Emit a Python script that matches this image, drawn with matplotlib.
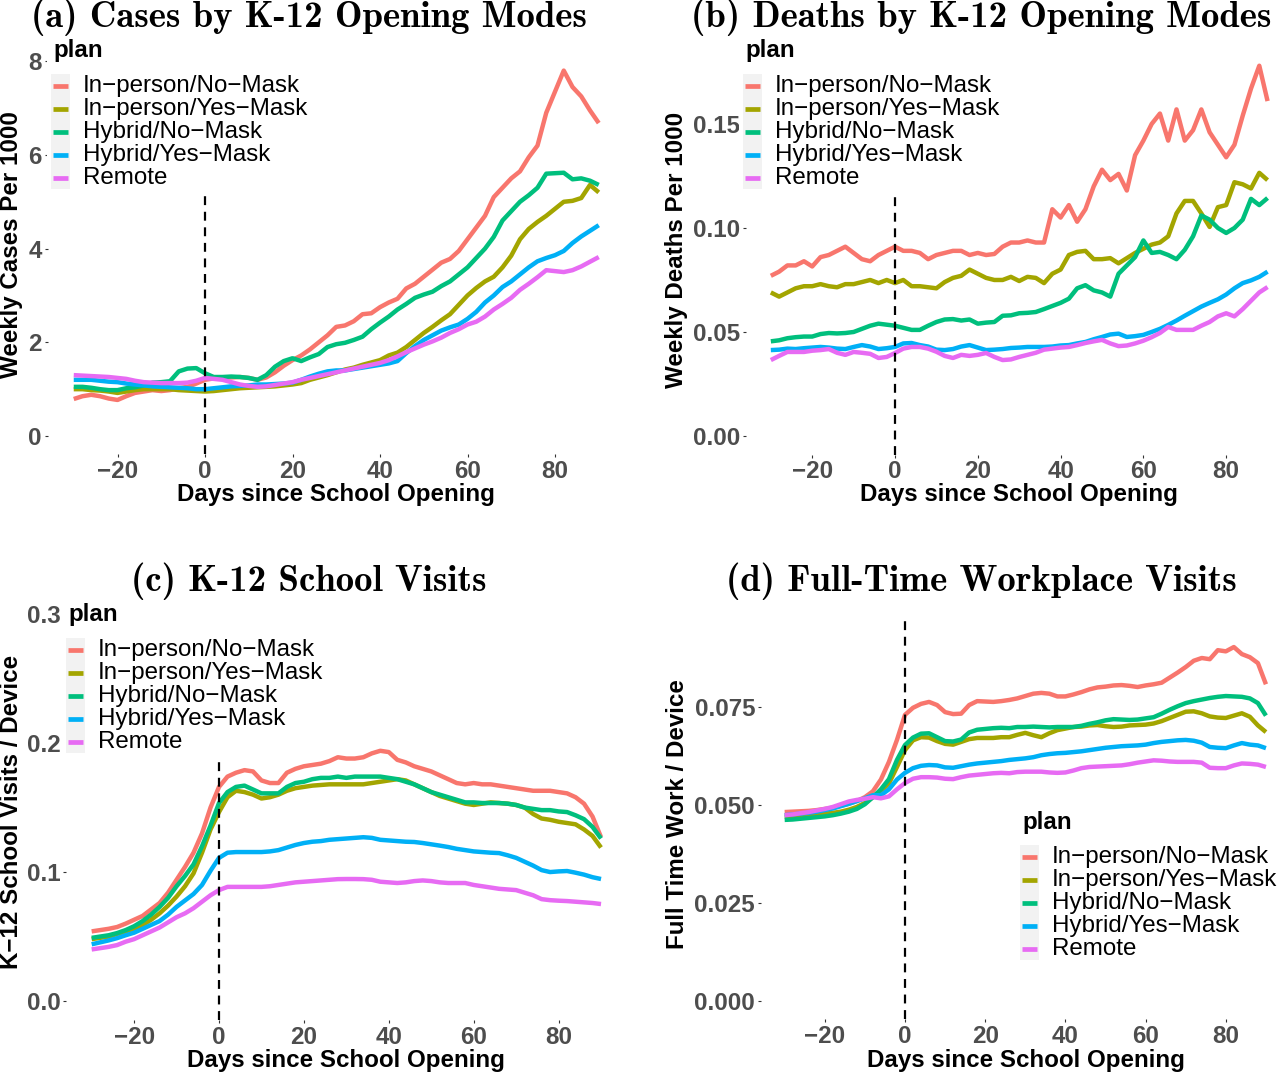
import matplotlib
matplotlib.use("Agg")
import matplotlib.pyplot as plt
from matplotlib.patches import Rectangle
from matplotlib.lines import Line2D

# ---------------- data ----------------
days = [-30, -28, -26, -24, -22, -20, -18, -16, -14, -12, -10, -8, -6, -4, -2,
        0, 2, 4, 6, 8, 10, 12, 14, 16, 18, 20, 22, 24, 26, 28, 30, 32, 34, 36,
        38, 40, 42, 44, 46, 48, 50, 52, 54, 56, 58, 60, 62, 64, 66, 68, 70, 72,
        74, 76, 78, 80, 82, 84, 86, 88, 90]

plans = ["In\u2212person/No\u2212Mask", "In\u2212person/Yes\u2212Mask",
         "Hybrid/No\u2212Mask", "Hybrid/Yes\u2212Mask", "Remote"]
colors = ["#F8766D", "#A3A500", "#00BF7D", "#00B0F6", "#E76BF3"]

# (a) weekly cases per 1000
cases_ip_nomask = [0.79, 0.85, 0.88, 0.85, 0.80, 0.77, 0.85, 0.92, 0.95, 0.98, 0.96, 0.98, 1.02, 1.05, 1.12,
                   1.20, 1.23, 1.24, 1.25, 1.26, 1.24, 1.20, 1.25, 1.36, 1.50, 1.62, 1.72, 1.85, 2.00, 2.15,
                   2.33, 2.36, 2.45, 2.60, 2.62, 2.75, 2.85, 2.93, 3.15, 3.25, 3.40, 3.55, 3.70, 3.78, 3.95,
                   4.20, 4.45, 4.70, 5.10, 5.30, 5.50, 5.65, 5.95, 6.20, 6.90, 7.35, 7.80, 7.45, 7.25, 6.95, 6.68]
cases_ip_yesmask = [1.00, 1.00, 0.98, 0.97, 0.95, 0.92, 0.95, 0.98, 1.00, 1.00, 1.00, 1.00, 0.98, 0.97, 0.96,
                    0.95, 0.96, 0.98, 1.00, 1.02, 1.03, 1.04, 1.05, 1.06, 1.08, 1.10, 1.13, 1.20, 1.25, 1.30,
                    1.36, 1.42, 1.46, 1.52, 1.57, 1.62, 1.72, 1.78, 1.90, 2.05, 2.20, 2.33, 2.47, 2.60, 2.80,
                    3.00, 3.16, 3.30, 3.40, 3.60, 3.85, 4.20, 4.42, 4.57, 4.70, 4.85, 5.00, 5.02, 5.08, 5.36, 5.20]
cases_hy_nomask = [1.05, 1.05, 1.03, 1.00, 0.98, 0.98, 1.02, 1.04, 1.08, 1.14, 1.15, 1.17, 1.38, 1.44, 1.45,
                   1.34, 1.26, 1.26, 1.27, 1.26, 1.24, 1.20, 1.30, 1.48, 1.60, 1.66, 1.60, 1.68, 1.75, 1.90,
                   1.96, 1.99, 2.05, 2.12, 2.28, 2.42, 2.55, 2.70, 2.82, 2.95, 3.02, 3.08, 3.20, 3.30, 3.45,
                   3.60, 3.80, 4.00, 4.25, 4.60, 4.80, 5.00, 5.14, 5.30, 5.60, 5.61, 5.62, 5.48, 5.50, 5.45, 5.36]
cases_hy_yesmask = [1.20, 1.20, 1.20, 1.18, 1.16, 1.15, 1.12, 1.10, 1.08, 1.06, 1.05, 1.04, 1.03, 1.02, 1.00,
                    1.00, 1.02, 1.04, 1.06, 1.07, 1.08, 1.10, 1.10, 1.11, 1.12, 1.14, 1.20, 1.27, 1.33, 1.38,
                    1.40, 1.40, 1.43, 1.46, 1.49, 1.52, 1.55, 1.60, 1.77, 1.92, 2.05, 2.15, 2.25, 2.32, 2.38,
                    2.50, 2.65, 2.85, 3.00, 3.18, 3.30, 3.45, 3.60, 3.73, 3.80, 3.86, 3.95, 4.12, 4.26, 4.38, 4.50]
cases_remote = [1.30, 1.29, 1.28, 1.27, 1.26, 1.24, 1.22, 1.18, 1.15, 1.14, 1.13, 1.13, 1.13, 1.14, 1.18,
                1.24, 1.22, 1.20, 1.15, 1.10, 1.07, 1.05, 1.06, 1.09, 1.12, 1.15, 1.20, 1.24, 1.28, 1.32,
                1.36, 1.40, 1.44, 1.48, 1.52, 1.56, 1.62, 1.70, 1.79, 1.87, 1.95, 2.02, 2.10, 2.20, 2.28,
                2.38, 2.44, 2.55, 2.70, 2.82, 2.95, 3.12, 3.25, 3.39, 3.54, 3.52, 3.50, 3.54, 3.62, 3.72, 3.82]

# (b) weekly deaths per 1000
deaths_ip_nomask = [0.077, 0.079, 0.082, 0.082, 0.084, 0.0815, 0.086, 0.087, 0.089, 0.091, 0.088, 0.085, 0.084, 0.087, 0.089,
                    0.091, 0.089, 0.089, 0.088, 0.085, 0.087, 0.088, 0.089, 0.089, 0.087, 0.088, 0.087, 0.0875, 0.091, 0.093,
                    0.093, 0.094, 0.093, 0.093, 0.109, 0.105, 0.111, 0.103, 0.109, 0.120, 0.128, 0.123, 0.126, 0.118, 0.135,
                    0.142, 0.150, 0.155, 0.142, 0.157, 0.142, 0.147, 0.157, 0.146, 0.140, 0.134, 0.140, 0.154, 0.167, 0.178, 0.161]
deaths_ip_yesmask = [0.069, 0.067, 0.069, 0.071, 0.072, 0.072, 0.073, 0.072, 0.0715, 0.073, 0.073, 0.074, 0.075, 0.0735, 0.075,
                     0.0735, 0.075, 0.072, 0.072, 0.0715, 0.071, 0.074, 0.076, 0.077, 0.080, 0.078, 0.076, 0.075, 0.075, 0.0765,
                     0.0745, 0.0765, 0.076, 0.0735, 0.078, 0.080, 0.087, 0.0885, 0.089, 0.085, 0.085, 0.0855, 0.083, 0.0855, 0.088,
                     0.090, 0.092, 0.093, 0.096, 0.107, 0.113, 0.113, 0.107, 0.1005, 0.110, 0.111, 0.122, 0.121, 0.119, 0.1265, 0.123]
deaths_hy_nomask = [0.0455, 0.046, 0.047, 0.0475, 0.0478, 0.0478, 0.049, 0.0495, 0.0493, 0.0495, 0.050, 0.0515, 0.053, 0.054, 0.0535,
                    0.053, 0.052, 0.051, 0.051, 0.053, 0.0548, 0.056, 0.0562, 0.0555, 0.056, 0.054, 0.0545, 0.0548, 0.0578, 0.058,
                    0.059, 0.0592, 0.0596, 0.061, 0.0625, 0.064, 0.066, 0.071, 0.0725, 0.070, 0.069, 0.067, 0.078, 0.082, 0.086,
                    0.094, 0.088, 0.0885, 0.087, 0.085, 0.0895, 0.096, 0.106, 0.104, 0.100, 0.0976, 0.100, 0.104, 0.114, 0.111, 0.1144]
deaths_hy_yesmask = [0.0413, 0.0415, 0.042, 0.0418, 0.0422, 0.0425, 0.0428, 0.0425, 0.042, 0.0418, 0.0428, 0.0437, 0.043, 0.0418, 0.0422,
                     0.0428, 0.0445, 0.0447, 0.0437, 0.043, 0.0415, 0.0413, 0.0418, 0.043, 0.0437, 0.0425, 0.0413, 0.0415, 0.0418, 0.0423,
                     0.0425, 0.0428, 0.0428, 0.0428, 0.043, 0.0435, 0.0437, 0.0445, 0.0452, 0.0465, 0.0476, 0.0488, 0.0492, 0.0476, 0.048,
                     0.0486, 0.050, 0.0515, 0.0534, 0.0555, 0.0578, 0.060, 0.0622, 0.064, 0.0657, 0.068, 0.071, 0.0735, 0.0748, 0.0765, 0.079]
deaths_remote = [0.0365, 0.0385, 0.0404, 0.0404, 0.0404, 0.041, 0.0413, 0.0418, 0.040, 0.039, 0.0404, 0.040, 0.0395, 0.0375, 0.038,
                 0.0399, 0.042, 0.0428, 0.0428, 0.042, 0.0405, 0.0385, 0.0375, 0.039, 0.0385, 0.039, 0.0399, 0.038, 0.0365, 0.0368,
                 0.038, 0.039, 0.040, 0.0415, 0.042, 0.0425, 0.0428, 0.0437, 0.0447, 0.0455, 0.0462, 0.0445, 0.0432, 0.0435, 0.0445,
                 0.0458, 0.0475, 0.0495, 0.0524, 0.051, 0.051, 0.051, 0.053, 0.0548, 0.0575, 0.059, 0.0575, 0.061, 0.065, 0.069, 0.0716]

# (c) K-12 school visits per device
school_ip_nomask = [0.054, 0.055, 0.056, 0.0574, 0.060, 0.063, 0.066, 0.071, 0.076, 0.084, 0.094, 0.104, 0.115, 0.130, 0.150,
                    0.166, 0.174, 0.177, 0.179, 0.178, 0.171, 0.169, 0.169, 0.177, 0.180, 0.182, 0.183, 0.184, 0.186, 0.189,
                    0.188, 0.188, 0.189, 0.192, 0.194, 0.193, 0.187, 0.185, 0.182, 0.180, 0.178, 0.175, 0.172, 0.169, 0.168,
                    0.169, 0.168, 0.168, 0.167, 0.166, 0.165, 0.164, 0.163, 0.163, 0.163, 0.162, 0.161, 0.158, 0.153, 0.143, 0.127]
school_ip_yesmask = [0.048, 0.049, 0.050, 0.052, 0.054, 0.056, 0.059, 0.063, 0.068, 0.074, 0.081, 0.089, 0.099, 0.115, 0.133,
                     0.1465, 0.158, 0.163, 0.162, 0.160, 0.157, 0.158, 0.160, 0.163, 0.165, 0.166, 0.167, 0.1675, 0.168, 0.168,
                     0.168, 0.168, 0.168, 0.169, 0.170, 0.171, 0.172, 0.171, 0.168, 0.165, 0.162, 0.159, 0.157, 0.155, 0.153,
                     0.152, 0.153, 0.154, 0.1535, 0.153, 0.152, 0.150, 0.145, 0.1415, 0.1405, 0.139, 0.138, 0.137, 0.133, 0.128, 0.119]
school_hy_nomask = [0.049, 0.050, 0.051, 0.0527, 0.055, 0.058, 0.062, 0.067, 0.073, 0.080, 0.089, 0.097, 0.106, 0.120, 0.136,
                    0.1535, 0.162, 0.166, 0.167, 0.164, 0.161, 0.161, 0.161, 0.166, 0.169, 0.170, 0.172, 0.173, 0.173, 0.174,
                    0.173, 0.174, 0.174, 0.174, 0.174, 0.173, 0.172, 0.170, 0.168, 0.165, 0.162, 0.160, 0.158, 0.156, 0.154,
                    0.154, 0.1535, 0.1535, 0.1535, 0.153, 0.152, 0.150, 0.149, 0.148, 0.148, 0.147, 0.1465, 0.144, 0.141, 0.135, 0.126]
school_hy_yesmask = [0.044, 0.0455, 0.047, 0.0488, 0.051, 0.053, 0.056, 0.059, 0.062, 0.067, 0.073, 0.078, 0.083, 0.090, 0.101,
                     0.111, 0.115, 0.1155, 0.1155, 0.1155, 0.1155, 0.116, 0.117, 0.119, 0.121, 0.1225, 0.1235, 0.124, 0.125, 0.1255,
                     0.126, 0.1265, 0.127, 0.1265, 0.125, 0.1245, 0.124, 0.1235, 0.1233, 0.1225, 0.1215, 0.1205, 0.1194, 0.118, 0.117,
                     0.116, 0.1155, 0.115, 0.1147, 0.113, 0.111, 0.108, 0.105, 0.1015, 0.100, 0.1005, 0.1008, 0.0995, 0.098, 0.096, 0.0946]
school_remote = [0.040, 0.041, 0.042, 0.0434, 0.046, 0.048, 0.051, 0.054, 0.057, 0.061, 0.065, 0.068, 0.072, 0.077, 0.082,
                 0.086, 0.0885, 0.0885, 0.0885, 0.0885, 0.0885, 0.089, 0.090, 0.091, 0.092, 0.0925, 0.093, 0.0935, 0.094, 0.0945,
                 0.0946, 0.0946, 0.0945, 0.094, 0.0925, 0.092, 0.0915, 0.092, 0.093, 0.0935, 0.093, 0.092, 0.0915, 0.0915, 0.0915,
                 0.090, 0.089, 0.088, 0.087, 0.0865, 0.086, 0.084, 0.082, 0.079, 0.0782, 0.0778, 0.0775, 0.077, 0.0765, 0.076, 0.0752]

# (d) full-time workplace visits per device
work_ip_nomask = [0.0482, 0.0483, 0.0484, 0.0485, 0.0487, 0.049, 0.0493, 0.0498, 0.0503, 0.051, 0.052, 0.0535, 0.0565, 0.061, 0.0666,
                  0.073, 0.0748, 0.0758, 0.0763, 0.0755, 0.0737, 0.0732, 0.0733, 0.0755, 0.0765, 0.0764, 0.0763, 0.0765, 0.0768, 0.0772,
                  0.0778, 0.0784, 0.0786, 0.0784, 0.0777, 0.0777, 0.0782, 0.0788, 0.0795, 0.080, 0.0802, 0.0805, 0.0806, 0.0804, 0.0801,
                  0.0805, 0.0808, 0.0812, 0.0825, 0.0838, 0.0852, 0.0868, 0.0875, 0.0872, 0.0895, 0.0892, 0.0903, 0.0885, 0.0877, 0.0862, 0.0808]
work_ip_yesmask = [0.047, 0.0471, 0.0472, 0.0474, 0.0476, 0.0478, 0.048, 0.0483, 0.0488, 0.0495, 0.0505, 0.052, 0.0535, 0.0555, 0.0597,
                   0.064, 0.0665, 0.0673, 0.0672, 0.0663, 0.0656, 0.0654, 0.0661, 0.0668, 0.0671, 0.0671, 0.0671, 0.0673, 0.0673, 0.0679,
                   0.0684, 0.0678, 0.0673, 0.0683, 0.0691, 0.0695, 0.0699, 0.070, 0.0703, 0.0704, 0.0701, 0.0699, 0.070, 0.0703, 0.0704,
                   0.0705, 0.0708, 0.0714, 0.0722, 0.073, 0.0738, 0.0739, 0.0734, 0.0726, 0.0723, 0.0722, 0.0728, 0.0734, 0.0725, 0.0703, 0.0686]
work_hy_nomask = [0.0462, 0.0463, 0.0465, 0.0467, 0.0469, 0.0471, 0.0474, 0.0478, 0.0483, 0.049, 0.0502, 0.052, 0.054, 0.0566, 0.0615,
                  0.0653, 0.0672, 0.0682, 0.0683, 0.0673, 0.0663, 0.0662, 0.0667, 0.0685, 0.0692, 0.0694, 0.0696, 0.0697, 0.0696, 0.0699,
                  0.0699, 0.070, 0.0699, 0.0698, 0.0699, 0.0699, 0.0699, 0.0702, 0.0707, 0.0711, 0.0716, 0.0719, 0.0718, 0.0717, 0.0718,
                  0.0721, 0.0724, 0.0733, 0.0743, 0.0752, 0.076, 0.0765, 0.0769, 0.0773, 0.0776, 0.0778, 0.0777, 0.0776, 0.0772, 0.076, 0.0728]
work_hy_yesmask = [0.0474, 0.0476, 0.0478, 0.048, 0.0483, 0.0487, 0.0491, 0.0497, 0.0503, 0.051, 0.0517, 0.0525, 0.0525, 0.054, 0.0565,
                   0.0582, 0.0594, 0.060, 0.0602, 0.0601, 0.0596, 0.0595, 0.0599, 0.0603, 0.0606, 0.0608, 0.061, 0.0612, 0.0615, 0.0617,
                   0.0619, 0.0622, 0.0627, 0.063, 0.0632, 0.0633, 0.0635, 0.0637, 0.064, 0.0643, 0.0646, 0.0648, 0.065, 0.0651, 0.0652,
                   0.0654, 0.0658, 0.0661, 0.0663, 0.0665, 0.0666, 0.0664, 0.0659, 0.0648, 0.0646, 0.0645, 0.0652, 0.0658, 0.0654, 0.0652, 0.0645]
work_remote = [0.0474, 0.0476, 0.0479, 0.0482, 0.0486, 0.049, 0.0495, 0.0502, 0.0509, 0.0513, 0.0516, 0.052, 0.0517, 0.0522, 0.054,
               0.0556, 0.0567, 0.0571, 0.0571, 0.057, 0.0567, 0.0566, 0.0571, 0.0575, 0.0577, 0.0579, 0.0581, 0.0582, 0.0581, 0.0584,
               0.0585, 0.0585, 0.0585, 0.0583, 0.0582, 0.0583, 0.0588, 0.0594, 0.0597, 0.0598, 0.0599, 0.060, 0.0601, 0.0604, 0.0608,
               0.0611, 0.0614, 0.0613, 0.0611, 0.061, 0.061, 0.061, 0.0608, 0.0595, 0.0594, 0.0594, 0.0601, 0.0606, 0.0605, 0.0603, 0.0597]

x_ticks = [-20, 0, 20, 40, 60, 80]
a_yticks = [0, 2, 4, 6, 8]
a_yticklabels = ["0", "2", "4", "6", "8"]
b_yticks = [0.0, 0.05, 0.10, 0.15]
b_yticklabels = ["0.00", "0.05", "0.10", "0.15"]
c_yticks = [0.0, 0.1, 0.2, 0.3]
c_yticklabels = ["0.0", "0.1", "0.2", "0.3"]
d_yticks = [0.0, 0.025, 0.050, 0.075]
d_yticklabels = ["0.000", "0.025", "0.050", "0.075"]

titles = ["(a) Cases by K-12 Opening Modes", "(b) Deaths by K-12 Opening Modes",
          "(c) K-12 School Visits", "(d) Full-Time Workplace Visits"]
ylabels = ["Weekly Cases Per 1000", "Weekly Deaths Per 1000",
           "K\u221212 School Visits / Device", "Full Time Work / Device"]
xlabel = "Days since School Opening"

# ---------------- layout ----------------
W, H = 1280, 1076
SANS = ["Liberation Sans", "DejaVu Sans"]
FS = 17.4
plt.rcParams["font.family"] = SANS
plt.rcParams["axes.unicode_minus"] = True

fig = plt.figure(figsize=(W / 100, H / 100), dpi=100)
fig.patch.set_facecolor("white")


def fx(px):
    return px / W


def fy(py):
    return 1 - py / H


def add_panel(box, ylim, yticks, yticklabels, series):
    l, t, r, b = box
    ax = fig.add_axes([fx(l), fy(b), (r - l) / W, (b - t) / H])
    ax.set_facecolor("none")
    for s in ax.spines.values():
        s.set_visible(False)
    for vals, col in zip(series, colors):
        ax.plot(days, vals, color=col, lw=3.2, solid_joinstyle="round",
                solid_capstyle="butt", zorder=2)
    ax.axvline(0, color="black", lw=1.6, linestyle=(0, (4, 3)), zorder=3)
    ax.set_xlim(-36, 96)
    ax.set_ylim(*ylim)
    ax.set_xticks(x_ticks)
    ax.set_yticks(yticks)
    ax.set_yticklabels(yticklabels)
    ax.tick_params(axis="both", direction="out", length=2.5, width=0.8,
                   color="#333333", labelsize=FS, labelcolor="#4D4D4D", pad=1.5)
    for lab in ax.get_xticklabels() + ax.get_yticklabels():
        lab.set_fontweight("bold")
    ax.grid(False)
    return ax


def add_legend(key_left, first_row):
    step = 23
    last_row = first_row + 4 * step
    box_l, box_r = key_left - 4, key_left + 261
    box_t, box_b = first_row - 60, last_row + 16
    fig.add_artist(Rectangle((fx(box_l), fy(box_b)), (box_r - box_l) / W,
                             (box_b - box_t) / H, transform=fig.transFigure,
                             facecolor="white", edgecolor="none", zorder=5))
    kt, kb = first_row - 12, last_row + 11
    fig.add_artist(Rectangle((fx(key_left), fy(kb)), 19 / W, (kb - kt) / H,
                             transform=fig.transFigure, facecolor="#F2F2F2",
                             edgecolor="none", zorder=6))
    for i, (name, col) in enumerate(zip(plans, colors)):
        yy = first_row + i * step
        fig.add_artist(Line2D([fx(key_left + 2), fx(key_left + 17)], [fy(yy), fy(yy)],
                              transform=fig.transFigure, color=col, lw=3.4,
                              solid_capstyle="butt", zorder=7))
        fig.text(fx(key_left + 32), fy(yy), name, ha="left", va="center",
                 fontsize=FS, color="black", zorder=8)
    fig.text(fx(key_left + 2), fy(first_row - 35), "plan", ha="left", va="center",
             fontsize=FS, fontweight="bold", color="black", zorder=8)


panels = [
    dict(box=(47.5, 51.4, 625, 454.3), ylim=(-0.39, 8.21), yt=a_yticks, ytl=a_yticklabels,
         series=[cases_ip_nomask, cases_ip_yesmask, cases_hy_nomask, cases_hy_yesmask, cases_remote],
         title_xy=(309, 17), xl_xy=(336, 495), yl_xy=(12, 245), leg=(51, 86)),
    dict(box=(746, 47, 1292.4, 454.5), ylim=(-0.0089, 0.187), yt=b_yticks, ytl=b_yticklabels,
         series=[deaths_ip_nomask, deaths_ip_yesmask, deaths_hy_nomask, deaths_hy_yesmask, deaths_remote],
         title_xy=(981, 17), xl_xy=(1019, 495), yl_xy=(677, 250), leg=(743, 86)),
    dict(box=(66.2, 594.7, 626.5, 1020.4), ylim=(-0.015, 0.315), yt=c_yticks, ytl=c_yticklabels,
         series=[school_ip_nomask, school_ip_yesmask, school_hy_nomask, school_hy_yesmask, school_remote],
         title_xy=(309, 581), xl_xy=(346, 1060), yl_xy=(12, 812), leg=(66, 650)),
    dict(box=(760.6, 614.9, 1290, 1019.4), ylim=(-0.0047, 0.0985), yt=d_yticks, ytl=d_yticklabels,
         series=[work_ip_nomask, work_ip_yesmask, work_hy_nomask, work_hy_yesmask, work_remote],
         title_xy=(981, 581), xl_xy=(1026, 1060), yl_xy=(678, 814), leg=(1020, 857)),
]

for p, title, ylab in zip(panels, titles, ylabels):
    add_panel(p["box"], p["ylim"], p["yt"], p["ytl"], p["series"])
    fig.text(fx(p["title_xy"][0]), fy(p["title_xy"][1]), title, ha="center", va="center",
             fontsize=26.5, family=["cmb10", "DejaVu Serif"], color="black", zorder=10)
    fig.text(fx(p["xl_xy"][0]), fy(p["xl_xy"][1]), xlabel, ha="center", va="center",
             fontsize=FS, fontweight="bold", color="black")
    fig.text(fx(p["yl_xy"][0]), fy(p["yl_xy"][1]), ylab, ha="center", va="center",
             rotation=90, fontsize=FS, fontweight="bold", color="black")
    add_legend(*p["leg"])

fig.savefig("out.png", dpi=100, facecolor="white")
